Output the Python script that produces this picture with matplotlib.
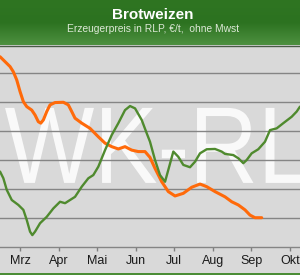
import numpy as np
import matplotlib
matplotlib.use('Agg')
import matplotlib.pyplot as plt
from matplotlib.textpath import TextPath
from matplotlib.patches import PathPatch, Rectangle
from matplotlib.font_manager import FontProperties
from matplotlib.transforms import Affine2D
from matplotlib.colors import LinearSegmentedColormap

plt.rcParams['font.family'] = ['Liberation Sans', 'DejaVu Sans']

# month position (3 = Mrz) and price in EUR/t
orange_m = [2.481, 2.611, 2.741, 2.826, 2.914, 3.000, 3.086, 3.174, 3.303, 3.389,
            3.474, 3.537, 3.604, 3.692, 3.778, 3.907, 4.123, 4.252, 4.340, 4.426,
            4.600, 4.815, 5.030, 5.204, 5.377, 5.549, 5.722, 5.896, 6.067, 6.241,
            6.370, 6.500, 6.674, 6.845, 7.019, 7.234, 7.452, 7.667, 7.841, 8.056,
            8.315, 8.489, 8.660, 8.834, 8.963, 9.093, 9.267]
orange_p = [215.6, 213.9, 212.2, 210.4, 207.6, 203.6, 200.1, 198.4, 197.2, 195.5,
            193.2, 192.7, 193.8, 196.7, 199.0, 199.8, 199.9, 199.0, 196.7, 194.4,
            192.7, 190.9, 188.0, 185.8, 184.6, 183.8, 184.6, 183.4, 182.9, 182.9,
            180.9, 177.1, 172.5, 169.1, 167.6, 168.5, 170.6, 171.7, 170.8, 169.1,
            167.3, 165.6, 164.5, 162.8, 161.0, 160.1, 160.1]

green_m = [2.481, 2.567, 2.655, 2.785, 2.956, 3.086, 3.174, 3.259, 3.319, 3.389,
           3.519, 3.692, 3.863, 4.037, 4.167, 4.296, 4.426, 4.600, 4.771, 4.900,
           5.030, 5.204, 5.377, 5.549, 5.722, 5.852, 5.982, 6.155, 6.285, 6.370,
           6.500, 6.630, 6.760, 6.845, 6.975, 7.104, 7.234, 7.408, 7.537, 7.667,
           7.841, 8.056, 8.229, 8.315, 8.530, 8.660, 8.790, 8.878, 9.007, 9.178,
           9.352, 9.482, 9.655, 9.827, 10.044, 10.174, 10.260]
green_p = [176.0, 173.7, 169.7, 166.2, 164.5, 162.8, 159.3, 155.3, 154.1, 155.3,
           158.2, 160.4, 163.3, 165.6, 165.1, 166.2, 167.3, 170.8, 173.7, 174.8,
           177.7, 183.4, 188.6, 192.7, 197.2, 198.6, 197.8, 193.8, 189.2, 186.3,
           180.0, 174.8, 172.5, 176.6, 182.9, 181.1, 178.3, 177.5, 179.4, 182.3,
           183.7, 183.8, 182.9, 182.1, 181.7, 180.6, 178.9, 180.0, 182.3, 183.7,
           186.3, 190.3, 190.9, 192.7, 194.9, 196.7, 198.4]

months = [3, 4, 5, 6, 7, 8, 9, 10]
month_labels = ['Mrz', 'Apr', 'Mai', 'Jun', 'Jul', 'Aug', 'Sep', 'Okt']

bg = '#d9d9d9'
fig = plt.figure(figsize=(3.0, 2.75), dpi=100, facecolor=bg)

# header band with gradient
hax = fig.add_axes([0, 1 - 45 / 275, 1, 45 / 275])
cmap = LinearSegmentedColormap.from_list('hdr', ['#2f7522', '#2c7220', '#4d9040'])
hax.imshow(np.linspace(0, 1, 50).reshape(-1, 1), aspect='auto', cmap=cmap,
           extent=[0, 1, 0, 1], origin='upper')
hax.set_xlim(0, 1)
hax.set_ylim(0, 1)
hax.axis('off')
fig.add_artist(plt.Line2D([0, 1], [1 - 45.5 / 275] * 2, color='#4a5a48', lw=1.0))
fig.text(0.51, 1 - 15 / 275, 'Brotweizen', color='white', fontsize=11,
         fontweight='bold', ha='center', va='center')
fig.text(0.51, 1 - 29 / 275, 'Erzeugerpreis in RLP, €/t,  ohne Mwst', color='#dce8d6',
         fontsize=7.4, ha='center', va='center')

# bottom green strip
fig.add_artist(Rectangle((0, 0), 1, 2.5 / 275, transform=fig.transFigure,
                         color='#4a8c35', lw=0))

ax = fig.add_axes([0, 28 / 275, 1, 201 / 275])
ax.set_facecolor(bg)
ax.set_xlim(2.48, 10.26)
ax.set_ylim(150, 219.3)

# watermark
tp = TextPath((0, 0), 'WK-RLP', size=100,
              prop=FontProperties(family='Liberation Sans'))
tr = Affine2D().scale(0.95 / 38.57, 1.09 / 2.9).translate(2.60, 172.1)
wm = PathPatch(tr.transform_path(tp), facecolor='white', edgecolor='none',
               alpha=0.85, zorder=0.3)
ax.add_patch(wm)

ax.set_axisbelow(True)
ax.set_yticks([160, 170, 180, 190, 200, 210])
ax.yaxis.grid(True, color='#858585', lw=1.0)
ax.tick_params(axis='y', left=False, labelleft=False)

ax.plot(orange_m, orange_p, color='#ff6a0a', lw=2.2, solid_joinstyle='round',
        solid_capstyle='round', zorder=3)
ax.plot(green_m, green_p, color='#4f8a2e', lw=1.7, solid_joinstyle='round',
        solid_capstyle='round', zorder=3)

ax.set_xticks(months)
ax.set_xticklabels(month_labels, fontsize=9, color='#1a1a1a')
ax.tick_params(axis='x', direction='out', length=3, width=1, color='#808080', pad=3)

for s in ['top', 'left', 'right']:
    ax.spines[s].set_visible(False)
ax.spines['bottom'].set_color('#858585')
ax.spines['bottom'].set_linewidth(1.0)

fig.savefig('out.png', dpi=100, facecolor=bg)
